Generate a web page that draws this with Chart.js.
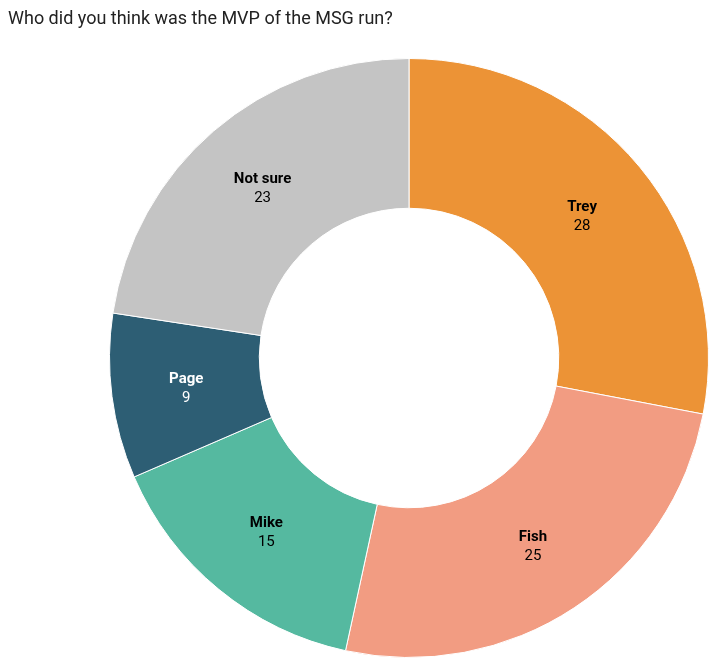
<!DOCTYPE html>
<html>
<head>
<meta charset="utf-8">
<script src="https://cdn.jsdelivr.net/npm/chart.js@4/dist/chart.umd.min.js"></script>
<style>
  html, body { margin: 0; padding: 0; background: #fff; }
  #wrap { position: relative; width: 718px; height: 672px; }
  #title {
    position: absolute; left: 8px; top: 7px;
    font-family: Roboto, sans-serif; font-size: 18px; color: #222;
  }
</style>
</head>
<body>
<div id="wrap">
  <div id="title">Who did you think was the MVP of the MSG run?</div>
  <canvas id="chart" width="718" height="672"></canvas>
</div>
<script>
const labels = ['Trey', 'Fish', 'Mike', 'Page', 'Not sure'];
// shares in percent (slice labels show them rounded)
const values = [28.0, 25.4, 15.1, 8.9, 22.6];
const colors = ['#EC9336', '#F29C82', '#55B9A0', '#2D5E74', '#C4C4C4'];
const labelColors = ['#000', '#000', '#000', '#fff', '#000'];

// draws name + value in the middle of each slice
const sliceLabels = {
    id: 'sliceLabels',
    afterDatasetsDraw(chart) {
        const ctx = chart.ctx;
        const meta = chart.getDatasetMeta(0);
        ctx.save();
        ctx.textAlign = 'center';
        ctx.textBaseline = 'middle';
        meta.data.forEach((arc, i) => {
            const pos = arc.tooltipPosition();
            ctx.fillStyle = labelColors[i];
            ctx.font = 'bold 15px Roboto, sans-serif';
            ctx.fillText(labels[i], pos.x, pos.y - 8);
            ctx.font = '15px Roboto, sans-serif';
            ctx.fillText(String(Math.round(values[i])), pos.x, pos.y + 11);
        });
        ctx.restore();
    }
};

new Chart(document.getElementById('chart'), {
    type: 'doughnut',
    data: {
        labels,
        datasets: [{
            data: values,
            backgroundColor: colors,
            borderColor: '#fff',
            borderWidth: 1
        }]
    },
    options: {
        responsive: false,
        animation: false,
        cutout: '50%',
        layout: {
            padding: { top: 58, bottom: 14, left: 100, right: 0 }
        },
        plugins: {
            legend: { display: false },
            tooltip: { enabled: false }
        }
    },
    plugins: [sliceLabels]
});
</script>
</body>
</html>
